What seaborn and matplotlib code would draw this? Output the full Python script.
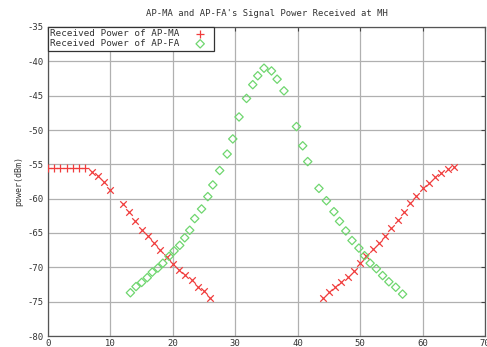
import matplotlib
matplotlib.use("Agg")
import matplotlib.pyplot as plt
import seaborn as sns
import pandas as pd

# AP-MA received power (red)
ma_x_flat = [0, 1, 2, 3, 4, 5, 6]
ma_y_flat = [-55.5, -55.5, -55.5, -55.5, -55.5, -55.5, -55.6]
ma_x = [7, 8, 9, 10, 12, 13, 14, 15, 16, 17, 18, 19, 20, 21, 22, 23, 24, 25, 26,
        44, 45, 46, 47, 48, 49, 50, 51, 52, 53, 54, 55, 56, 57, 58, 59, 60, 61, 62, 63, 64, 65]
ma_y = [-56.1, -56.7, -57.6, -58.8, -60.8, -62.0, -63.3, -64.5, -65.5, -66.5, -67.5, -68.5,
        -69.5, -70.4, -71.1, -71.9, -72.8, -73.5, -74.5,
        -74.5, -73.6, -72.9, -72.2, -71.4, -70.5, -69.4, -68.3, -67.4, -66.4, -65.4, -64.3,
        -63.1, -61.9, -60.7, -59.6, -58.5, -57.7, -56.8, -56.2, -55.7, -55.4]

# AP-FA received power (green)
fa_x = [13.2, 14.1, 15.0, 15.9, 16.7, 17.6, 18.4, 19.4, 20.2, 21.1, 21.9, 22.7, 23.5, 24.6,
        25.6, 26.4, 27.5, 28.7, 29.6, 30.6, 31.8, 32.8, 33.6, 34.6, 35.8, 36.7, 37.8,
        39.8, 40.8, 41.6, 43.4, 44.6, 45.8, 46.7, 47.7, 48.7, 49.8, 50.7, 51.6, 52.6, 53.6,
        54.6, 55.7, 56.8]
fa_y = [-73.7, -72.8, -72.2, -71.5, -70.7, -70.1, -69.4, -68.4, -67.6, -66.8, -65.7, -64.6,
        -62.9, -61.5, -59.7, -58.0, -55.9, -53.5, -51.3, -48.1, -45.4, -43.4, -42.1, -41.0,
        -41.4, -42.6, -44.3, -49.5, -52.3, -54.6, -58.5, -60.3, -61.9, -63.3, -64.7, -66.1,
        -67.2, -68.3, -69.4, -70.2, -71.2, -72.1, -72.9, -73.9]

title = "AP-MA and AP-FA's Signal Power Received at MH"
label_ma = "Received Power of AP-MA"
label_fa = "Received Power of AP-FA"
ylabel = "power(dBm)"
xticks = [0, 10, 20, 30, 40, 50, 60, 70]
yticks = [-80, -75, -70, -65, -60, -55, -50, -45, -40, -35]

sns.set_style("white")
plt.rcParams['font.family'] = ['DejaVu Sans Mono', 'DejaVu Sans']

RED = "#f03c3c"
GREEN = "#6fd66f"
FS = 6.4

fig = plt.figure(figsize=(4.87, 3.47), dpi=100)
ax = fig.add_axes([48/487, 1 - 336/347, (485-48)/487, (336-27)/347])

df_flat = pd.DataFrame({"x": ma_x_flat, "y": ma_y_flat})
df_ma = pd.DataFrame({"x": ma_x, "y": ma_y})
df_fa = pd.DataFrame({"x": fa_x, "y": fa_y})

sns.scatterplot(data=df_flat, x="x", y="y", ax=ax, marker="+", s=34, color=RED,
                linewidth=0.9, label=label_ma, zorder=3)
sns.scatterplot(data=df_ma, x="x", y="y", ax=ax, marker="x", s=22, color=RED,
                linewidth=0.9, zorder=3)
sns.scatterplot(data=df_fa, x="x", y="y", ax=ax, marker="D", s=18, facecolor="none",
                edgecolor=GREEN, linewidth=0.9, label=label_fa, zorder=3)

ax.set_xlim(0, 70)
ax.set_ylim(-80, -35)
ax.set_xticks(xticks)
ax.set_yticks(yticks)
ax.set_xticklabels([str(v) for v in xticks], fontsize=FS)
ax.set_yticklabels([str(v) for v in yticks], fontsize=FS)
ax.tick_params(axis="both", direction="in", length=3, width=0.8, pad=3,
               color="#444444", labelcolor="#333333", top=True, right=True)
ax.tick_params(axis="x", pad=2)
ax.grid(True, color="#b0b0b0", linewidth=0.9)
ax.set_axisbelow(True)
for s in ax.spines.values():
    s.set_color("#555555")
    s.set_linewidth(0.9)
ax.set_xlabel("")
ax.set_ylabel(ylabel, fontsize=FS - 0.4, color="#333333", labelpad=3)
fig.text((48+485)/2/487, 1 - 14/347, title, ha="center", va="center",
         fontsize=FS, color="#333333")

leg = ax.legend(loc="upper left", bbox_to_anchor=(0, 1), borderaxespad=0,
                markerfirst=False, fontsize=FS + 0.3, frameon=True, fancybox=False,
                handletextpad=1.0, handlelength=2.4, borderpad=0.25,
                labelspacing=0.1)
leg.get_frame().set_edgecolor("#333333")
leg.get_frame().set_linewidth(0.9)
leg.get_frame().set_alpha(1)
for t in leg.get_texts():
    t.set_color("#333333")

fig.savefig("out.png", dpi=100)
